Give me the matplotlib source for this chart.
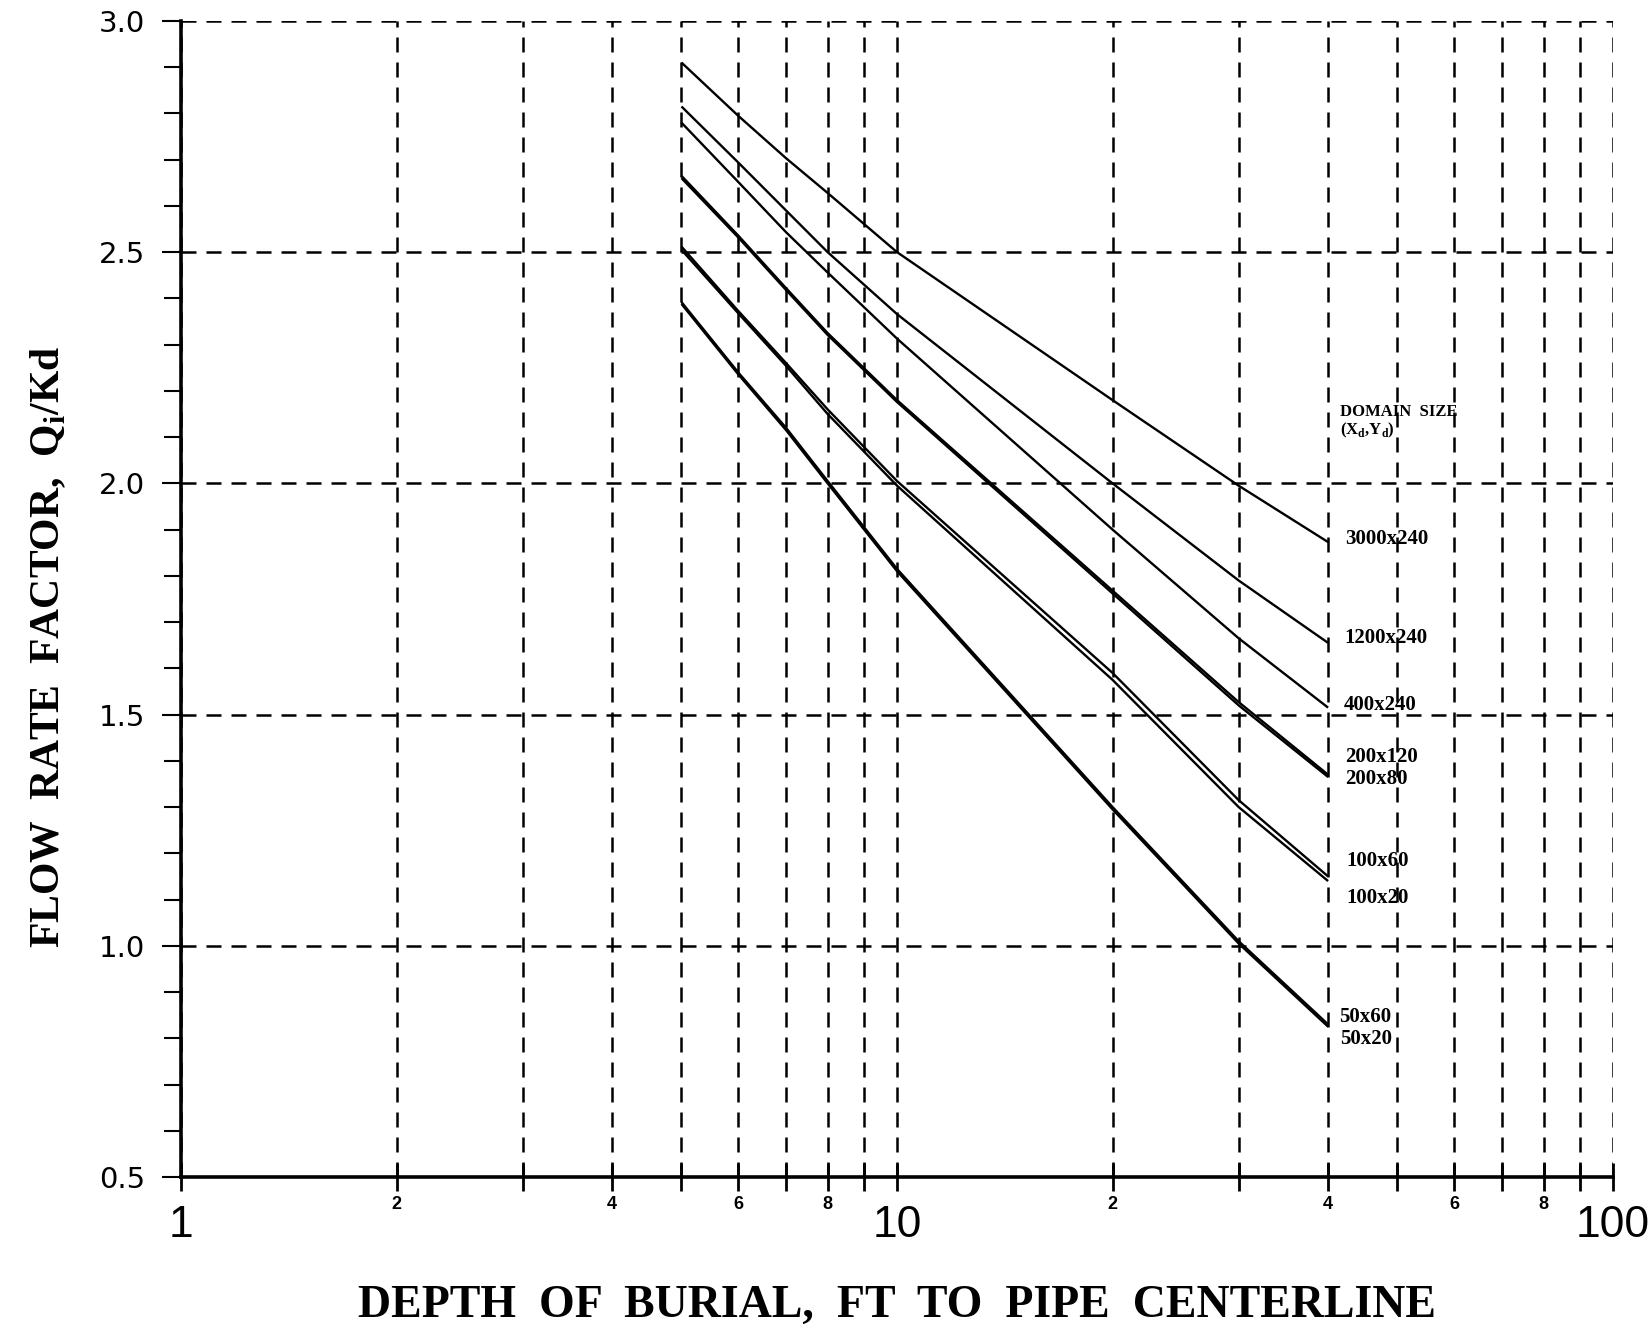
import matplotlib.pyplot as plt
from matplotlib.ticker import FixedLocator, FuncFormatter

# Depth of burial (ft) where the curves were read
depth = [5, 6, 7, 8, 10, 20, 30, 40]

# Flow rate factor Qi/Kd for each domain size
q_3000x240 = [2.91, 2.795, 2.703, 2.628, 2.50, 2.18, 1.995, 1.873]
q_1200x240 = [2.815, 2.694, 2.59, 2.50, 2.366, 2.0, 1.79, 1.655]
q_400x240 = [2.78, 2.652, 2.543, 2.456, 2.313, 1.90, 1.665, 1.515]
q_200x120 = [2.665, 2.536, 2.422, 2.325, 2.18, 1.768, 1.527, 1.37]
q_200x80 = [2.66, 2.532, 2.418, 2.321, 2.176, 1.762, 1.52, 1.365]
q_100x60 = [2.512, 2.373, 2.26, 2.16, 2.005, 1.59, 1.315, 1.15]
q_100x20 = [2.505, 2.368, 2.254, 2.15, 1.995, 1.575, 1.30, 1.14]
q_50x60 = [2.392, 2.24, 2.12, 2.005, 1.815, 1.30, 1.01, 0.83]
q_50x20 = [2.388, 2.236, 2.115, 2.0, 1.81, 1.295, 1.005, 0.825]

series = [q_3000x240, q_1200x240, q_400x240, q_200x120, q_200x80,
          q_100x60, q_100x20, q_50x60, q_50x20]
names = ["3000x240", "1200x240", "400x240", "200x120", "200x80",
         "100x60", "100x20", "50x60", "50x20"]
# where each name sits (y value of its text)
label_y = [1.88, 1.665, 1.52, 1.408, 1.36, 1.183, 1.103, 0.846, 0.798]
label_x = [42.2, 42.2, 42.0, 42.2, 42.2, 42.4, 42.4, 41.4, 41.6]

y_major = [0.5, 1.0, 1.5, 2.0, 2.5, 3.0]
x_minor = [2, 3, 4, 5, 6, 7, 8, 9, 20, 30, 40, 50, 60, 70, 80, 90]

SERIF = "Liberation Serif"
SANS = "Liberation Sans"

fig = plt.figure(figsize=(16.5, 13.25), dpi=100)
ax = fig.add_axes([0.1097, 0.1117, 0.9776 - 0.1097, 0.9842 - 0.1117])

for q in series:
    ax.plot(depth, q, color="black", lw=1.7, solid_capstyle="butt")

ax.set_xscale("log")
ax.set_xlim(1, 100)
ax.set_ylim(0.5, 3.0)

# ticks
ax.xaxis.set_major_locator(FixedLocator([1, 10, 100]))
ax.xaxis.set_major_formatter(FuncFormatter(lambda v, p: "%d" % round(v)))
ax.xaxis.set_minor_locator(FixedLocator(x_minor))


def minor_label(v, p):
    d = int(round(v / (10 if v >= 10 else 1)))
    return str(d) if d % 2 == 0 else ""


ax.xaxis.set_minor_formatter(FuncFormatter(minor_label))
ax.set_yticks(y_major)
ax.set_yticklabels(["%.1f" % v for v in y_major])
ax.yaxis.set_minor_locator(FixedLocator([v / 10 for v in range(5, 31)]))

ax.tick_params(axis="x", which="both", direction="inout", length=20, width=2, color="black")
ax.tick_params(axis="x", which="major", pad=10, labelsize=32)
ax.tick_params(axis="x", which="minor", pad=4, labelsize=13)
ax.tick_params(axis="y", which="both", direction="out", length=12, width=1.5)
ax.tick_params(axis="y", which="major", pad=12, labelsize=21, length=14)
for t in ax.get_xticklabels(which="major"):
    t.set_family(SANS)
for t in ax.get_yticklabels():
    t.set_family("DejaVu Sans")
for t in ax.get_xticklabels(which="minor"):
    t.set_family(SANS)
    t.set_fontweight("bold")

# dashed grid
grid_style = dict(color="black", lw=1.8, linestyle=(0, (6, 4)))
ax.xaxis.grid(True, which="both", **grid_style)
ax.yaxis.grid(True, which="major", **grid_style)
ax.set_axisbelow(True)

for s in ["top", "right"]:
    ax.spines[s].set_visible(False)
for s in ["left", "bottom"]:
    ax.spines[s].set_linewidth(2.6)

# curve labels
ax.text(41.5, 2.155, "DOMAIN  SIZE", family=SERIF, weight="bold", fontsize=12, va="center")
ax.text(41.5, 2.114, r"(X$_\mathregular{d}$,Y$_\mathregular{d}$)", family=SERIF, weight="bold",
        fontsize=12, va="center")
for name, lx, ly in zip(names, label_x, label_y):
    ax.text(lx, ly, name, family=SERIF, weight="bold", fontsize=15, va="center")

ax.set_xlabel("DEPTH  OF  BURIAL,  FT  TO  PIPE  CENTERLINE", family=SERIF, weight="bold",
              fontsize=33, labelpad=28)
ax.set_ylabel(r"FLOW  RATE  FACTOR,  Q$_\mathregular{i}$/Kd", family=SERIF, weight="bold",
              fontsize=30)
ax.yaxis.set_label_coords(-0.079, 0.4585)

fig.savefig("out.png", dpi=100)
